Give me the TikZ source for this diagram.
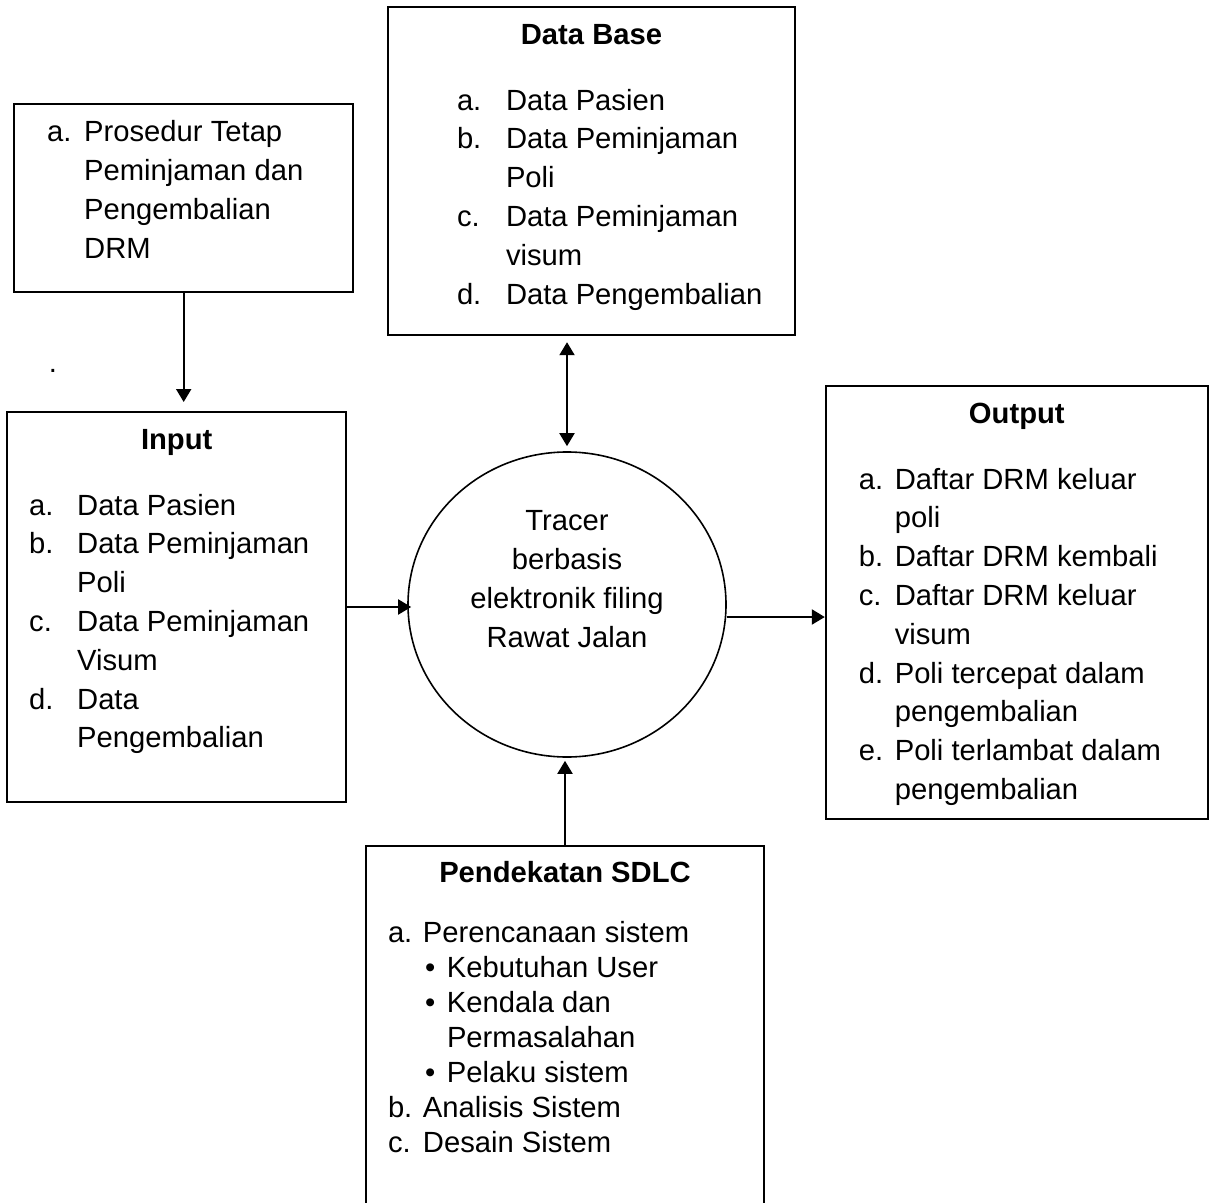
\documentclass[tikz,border=0pt]{standalone}
\usepackage{fontspec}
\setmainfont{Liberation Sans}
\usepackage{tikz}
\usetikzlibrary{positioning,arrows.meta,shapes.geometric}

\newlength{\lblw}
\newcommand{\boxhead}[2][13.6pt]{\centerline{\rule{0pt}{18.5pt}\textbf{#2}}\vspace{#1}}
\newcommand{\li}[2]{\makebox[\lblw][l]{#1}#2\par}

\begin{document}
\begin{tikzpicture}[
  font=\fontsize{14.6pt}{19.4pt}\selectfont,
  box/.style={
    draw,
    line width=1pt,
    inner sep=0pt
  },
  proc/.style={
    draw,
    ellipse,
    line width=0.8pt,
    inner sep=0pt,
    minimum width=159pt,
    minimum height=152.5pt
  },
  arr/.style={-{Triangle[length=6.5pt,width=7.5pt]}, line width=1pt},
  darr/.style={{Triangle[length=6.5pt,width=7.5pt]}-{Triangle[length=6.5pt,width=7.5pt]}, line width=1pt}
]
\useasboundingbox (0,0) rectangle (604.5pt,-601.5pt);

% =========================================================
% PROSES
% =========================================================

\node[proc] (tracer) at (283.5pt,-302.25pt) {};
\node[align=center, yshift=12.8pt] (tracertxt) at (tracer.center)
{Tracer\\berbasis\\elektronik filing\\Rawat Jalan};

% =========================================================
% KOTAK SEKITAR
% =========================================================

\node[box, above=57.5pt of tracer, xshift=12.25pt] (database)
{\parbox[t][164pt][t]{203.5pt}{\boxhead{Data Base}
  \setlength{\leftskip}{34.5pt}\setlength{\lblw}{24.5pt}%
  \li{a.}{Data Pasien}
  \li{b.}{Data Peminjaman}
  \li{}{Poli}
  \li{c.}{Data Peminjaman}
  \li{}{visum}
  \li{d.}{Data Pengembalian}}};

\node[box, left=30pt of tracer, yshift=-1.25pt] (input)
{\parbox[t][195pt][t]{169.5pt}{\boxhead{Input}
  \setlength{\leftskip}{11pt}\setlength{\lblw}{24pt}%
  \li{a.}{Data Pasien}
  \li{b.}{Data Peminjaman}
  \li{}{Poli}
  \li{c.}{Data Peminjaman}
  \li{}{Visum}
  \li{d.}{Data}
  \li{}{Pengembalian}}};

\node[box, above=59pt of input, xshift=3.5pt] (prosedur)
{\parbox[t][94pt][t]{169.5pt}{%
  \setlength{\leftskip}{16.5pt}\setlength{\lblw}{18.5pt}%
  \li{\rule{0pt}{19pt}a.}{Prosedur Tetap}
  \li{}{Peminjaman dan}
  \li{}{Pengembalian}
  \li{}{DRM}}};

\node[box, right=49pt of tracer, yshift=1pt] (output)
{\parbox[t][216.5pt][t]{191pt}{\boxhead{Output}
  \setlength{\leftskip}{16.5pt}\setlength{\lblw}{18pt}%
  \li{a.}{Daftar DRM keluar}
  \li{}{poli}
  \li{b.}{Daftar DRM kembali}
  \li{c.}{Daftar DRM keluar}
  \li{}{visum}
  \li{d.}{Poli tercepat dalam}
  \li{}{pengembalian}
  \li{e.}{Poli terlambat dalam}
  \li{}{pengembalian}}};

\node[box, below=43.5pt of tracer, xshift=-1pt] (sdlc)
{\parbox[t][193pt][t]{199pt}{\fontsize{14.6pt}{17.5pt}\selectfont
  \boxhead[12.5pt]{Pendekatan SDLC}
  \setlength{\leftskip}{11pt}\setlength{\lblw}{17.5pt}%
  \li{a.}{Perencanaan sistem}
  \li{}{\makebox[12pt][l]{\hspace{1pt}\textbullet}Kebutuhan User}
  \li{}{\makebox[12pt][l]{\hspace{1pt}\textbullet}Kendala dan}
  \li{}{\hspace{12pt}Permasalahan}
  \li{}{\makebox[12pt][l]{\hspace{1pt}\textbullet}Pelaku sistem}
  \li{b.}{Analisis Sistem}
  \li{c.}{Desain Sistem}}};

\node[anchor=base, inner sep=0pt] (titik) at (26.5pt,-186pt) {.};

% =========================================================
% ALUR
% =========================================================

\draw[arr, shorten >=4.5pt] (prosedur.south) -- (prosedur.south |- input.north);
\draw[darr, shorten <=3pt, shorten >=2.5pt] (tracer.north |- database.south) -- (tracer.north);
\draw[arr, shorten >=-2pt] (input.east) -- (input.east -| tracer.west);
\draw[arr] ([yshift=-6.25pt]tracer.east) -- ([yshift=-6.25pt]tracer.east -| output.west);
\draw[arr, shorten >=1.5pt] (sdlc.north) -- (sdlc.north |- tracer.south);

\end{tikzpicture}
\end{document}
